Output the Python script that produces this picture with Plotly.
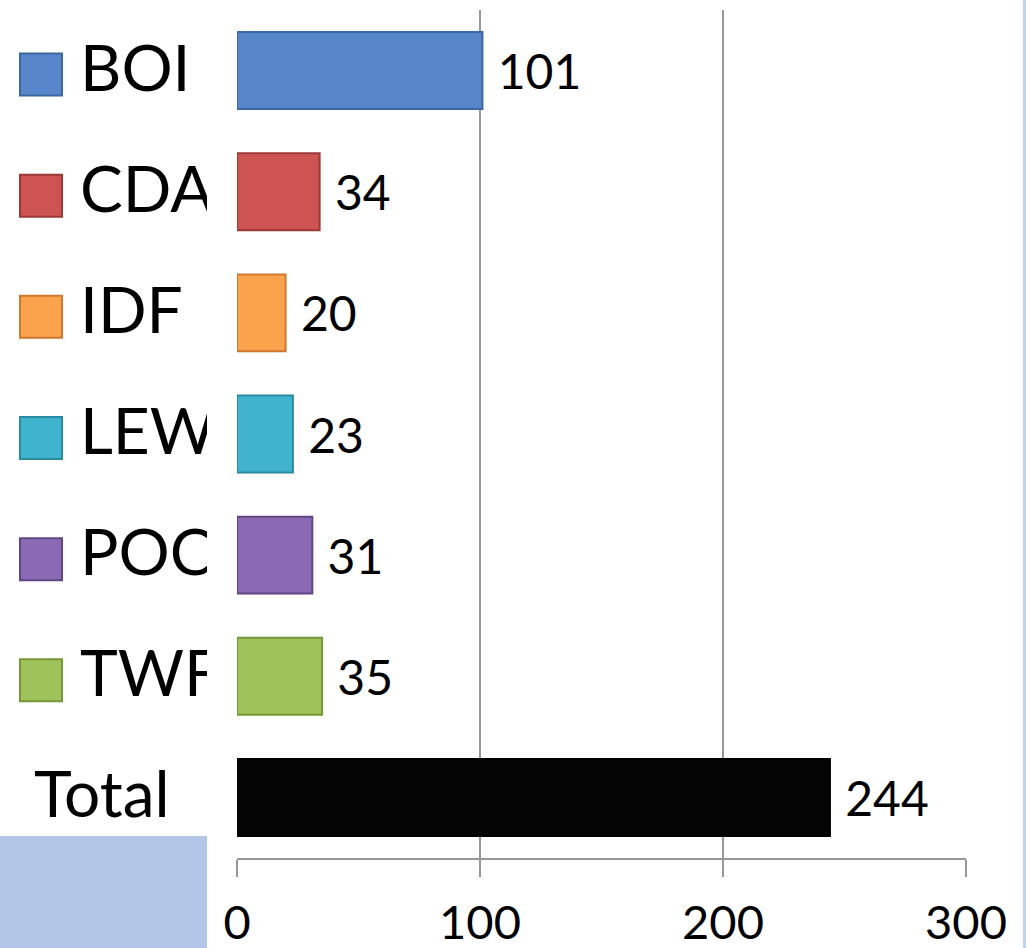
import plotly.graph_objects as go

categories = ["BOI", "CDA", "IDF", "LEW", "POC", "TWF", "Total"]
values = [101, 34, 20, 23, 31, 35, 244]
tick_vals = [0, 100, 200, 300]
tick_text = ["0", "100", "200", "300"]

fill_colors = ["#5787ca", "#cd5452", "#fba24d", "#40b4cf", "#8a6ab2", "#a0c25a", "#050505"]
edge_colors = ["#3d679f", "#9a3937", "#cc7a30", "#2a8aa2", "#5f4786", "#769638", "#000000"]

W, H = 1026, 948
px_l, px_r, px_t, px_b = 237, 966, 10, 858
xd = [px_l / W, px_r / W]
yd = [(H - px_b) / H, (H - px_t) / H]
lab_w = 207

FONT = "Lato, Carlito, 'Open Sans', sans-serif"

fig = go.Figure()

fig.add_trace(go.Bar(
    y=categories, x=values, orientation="h",
    marker=dict(color=fill_colors, line=dict(color=edge_colors, width=2)),
    text=["\u00a0" + str(v) for v in values], textposition="outside",
    textfont=dict(family=FONT, size=48, color="#000000"),
    cliponaxis=False, xaxis="x", yaxis="y", showlegend=False,
    hoverinfo="skip",
))

# left-hand label panel (clipped to its own subplot)
series_cats = categories[:-1]
fig.add_trace(go.Scatter(
    x=[41] * len(series_cats), y=series_cats, mode="markers",
    marker=dict(symbol="square", size=42, color=fill_colors[:-1],
                line=dict(color=edge_colors[:-1], width=2)),
    xaxis="x2", yaxis="y2", showlegend=False, hoverinfo="skip",
))
fig.add_trace(go.Scatter(
    x=[80] * len(series_cats) + [34], y=categories, mode="text",
    text=categories, textposition="middle right",
    textfont=dict(family=FONT, size=64, color="#000000"),
    xaxis="x2", yaxis="y2", showlegend=False, hoverinfo="skip",
))

shift = 4 / 121.0
fig.update_layout(
    template="none",
    width=W, height=H,
    margin=dict(l=0, r=0, t=0, b=0, pad=0, autoexpand=False),
    paper_bgcolor="white", plot_bgcolor="white",
    bargap=0.365,
    xaxis=dict(domain=xd, range=[0, 300], tickvals=tick_vals, ticktext=tick_text,
               showgrid=True, gridcolor="#979797", gridwidth=2,
               showline=True, linecolor="#979797", linewidth=2,
               ticks="outside", ticklen=17, tickwidth=2, tickcolor="#979797",
               ticklabelstandoff=6, automargin=False,
               tickfont=dict(family=FONT, size=47, color="#000000"),
               zeroline=False, anchor="y", fixedrange=True),
    yaxis=dict(domain=yd, categoryorder="array", categoryarray=categories,
               range=[6.5, -0.5], showticklabels=False, showgrid=False,
               zeroline=False, showline=False, ticks="", anchor="x", automargin=False),
    xaxis2=dict(domain=[0, lab_w / W], range=[0, lab_w], visible=False,
                anchor="y2", automargin=False),
    yaxis2=dict(domain=yd, categoryorder="array", categoryarray=categories,
                range=[6.5 - shift, -0.5 - shift], visible=False, anchor="x2",
                automargin=False),
    shapes=[
        dict(type="rect", xref="paper", yref="paper", x0=0, x1=lab_w / W,
             y0=0, y1=(H - 836) / H, fillcolor="#b4c6e7", line=dict(width=0), layer="below"),
        dict(type="rect", xref="paper", yref="paper", x0=1023 / W, x1=1,
             y0=0, y1=1, fillcolor="#c3d1ee", line=dict(width=0), layer="below"),
    ],
)

fig.write_html(
    "out.html",
    config={"displayModeBar": False},
    post_script="document.body.style.margin='0';document.body.style.overflow='hidden';",
)
